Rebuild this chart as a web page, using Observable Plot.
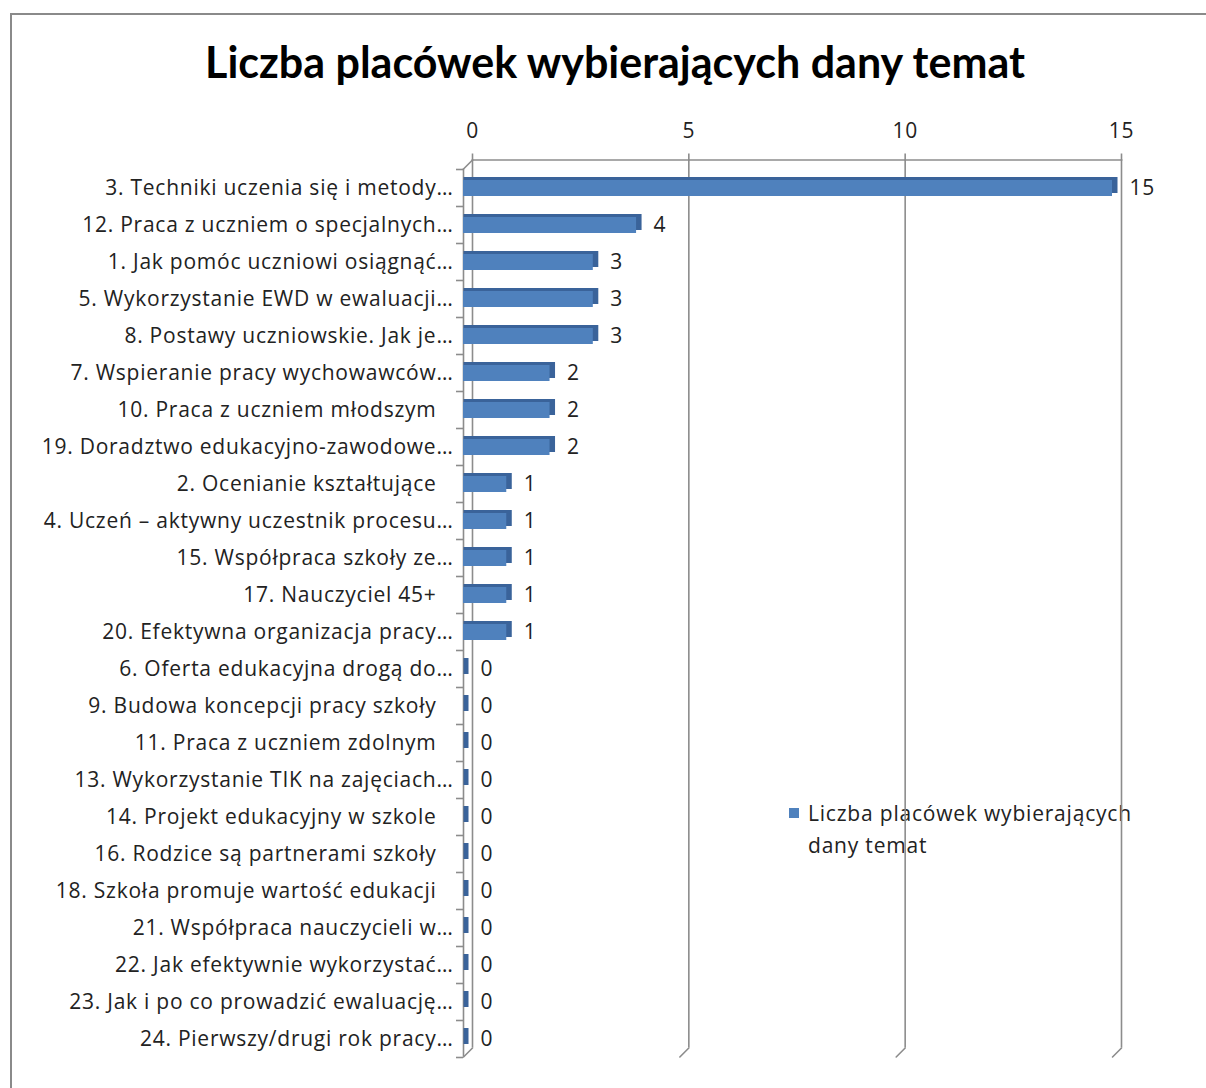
<!DOCTYPE html>
<html><head><meta charset="utf-8">
<script src="https://cdn.jsdelivr.net/npm/d3@7"></script>
<script src="https://cdn.jsdelivr.net/npm/@observablehq/plot@0.6"></script>
<style>
body{margin:0;background:#fff;font-family:"Open Sans",sans-serif;}
#wrap{position:relative;width:1206px;height:1088px;overflow:hidden;background:#fff;}
#border{position:absolute;left:10px;top:13px;width:1300px;height:1200px;border:2px solid #8a8a8a;}
#title{position:absolute;left:0;width:1230px;top:36px;text-align:center;font-family:Lato,sans-serif;font-size:43px;font-weight:bold;color:#000;line-height:52px;}
#legend{position:absolute;left:808px;top:797px;font-size:21px;line-height:32px;color:#222;letter-spacing:0.8px;}
#swatch{position:absolute;left:789px;top:808px;width:10px;height:10px;background:#4F81BD;}
#chart{position:absolute;left:0;top:0;}
#chart svg text{letter-spacing:0.75px;}
</style></head>
<body>
<div id="wrap">
  <div id="border"></div>
  <div id="title">Liczba placówek wybierających dany temat</div>
  <div id="swatch"></div>
  <div id="legend">Liczba placówek wybierających<br>dany temat</div>
  <div id="chart"></div>
</div>
<script>
const categories = [
  "3. Techniki uczenia się i metody…",
  "12. Praca z uczniem o specjalnych…",
  "1. Jak pomóc uczniowi osiągnąć…",
  "5. Wykorzystanie EWD w ewaluacji…",
  "8. Postawy uczniowskie. Jak je…",
  "7. Wspieranie pracy wychowawców…",
  "10. Praca z uczniem młodszym",
  "19. Doradztwo edukacyjno-zawodowe…",
  "2. Ocenianie kształtujące",
  "4. Uczeń – aktywny uczestnik procesu…",
  "15. Współpraca szkoły ze…",
  "17. Nauczyciel 45+",
  "20. Efektywna organizacja pracy…",
  "6. Oferta edukacyjna drogą do…",
  "9. Budowa koncepcji pracy szkoły",
  "11. Praca z uczniem zdolnym",
  "13. Wykorzystanie TIK na zajęciach…",
  "14. Projekt edukacyjny w szkole",
  "16. Rodzice są partnerami szkoły",
  "18. Szkoła promuje wartość edukacji",
  "21. Współpraca nauczycieli w…",
  "22. Jak efektywnie wykorzystać…",
  "23. Jak i po co prowadzić ewaluację…",
  "24. Pierwszy/drugi rok pracy…"
];
const values = [15, 4, 3, 3, 3, 2, 2, 2, 1, 1, 1, 1, 1, 0, 0, 0, 0, 0, 0, 0, 0, 0, 0, 0];
const xTicks = [0, 5, 10, 15];

const data = categories.map((c, i) => ({cat: c, value: values[i]}));
const truncated = categories.filter(c => c.endsWith("…"));
const full = categories.filter(c => !c.endsWith("…"));

const gray = "#8c8c8c";
const lineShape = {draw(context, l) { context.moveTo(0, 0); context.lineTo(0, -l); }};

const chart = Plot.plot({
  width: 1206, height: 1088,
  marginLeft: 472, marginRight: 85, marginTop: 168.5, marginBottom: 31.5,
  style: {background: "transparent", fontFamily: "'Open Sans', sans-serif", fontSize: "21px", color: "#222"},
  x: {domain: [0, 15], label: null},
  y: {domain: categories, padding: 0, label: null},
  marks: [
    Plot.gridX({ticks: xTicks, stroke: gray, strokeOpacity: 1, strokeWidth: 1.6, dy: -9}),
    Plot.frame({anchor: "top", stroke: gray, strokeWidth: 1.6, dy: -9}),
    Plot.vector(xTicks, {x: d => d, frameAnchor: "bottom", dy: -9, length: 12.7, rotate: 225, anchor: "start", shape: lineShape, stroke: gray, strokeWidth: 1.6}),
    Plot.vector([0], {x: d => d, frameAnchor: "top", dy: -9, length: 12.7, rotate: 225, anchor: "start", shape: lineShape, stroke: gray, strokeWidth: 1.6}),
    Plot.ruleX([0], {dx: -9, stroke: gray, strokeWidth: 1.6}),
    Plot.axisX({anchor: "top", ticks: xTicks, tickSize: 7, tickPadding: 15, dy: -9, stroke: gray, strokeWidth: 1.6, fill: "#222", fontSize: 21}),
    Plot.axisY({anchor: "left", tickSize: 7, dx: -9, dy: 18.5, tickFormat: () => "", stroke: gray, strokeWidth: 1.6}),
    Plot.axisY({anchor: "left", ticks: categories.slice(0, 1), tickSize: 7, dx: -9, dy: -18.5, tickFormat: () => "", stroke: gray, strokeWidth: 1.6}),
    Plot.axisY({anchor: "left", ticks: truncated, tickSize: 0, tickPadding: 10, dx: -9, fill: "#222", fontSize: 21}),
    Plot.axisY({anchor: "left", ticks: full, tickSize: 0, tickPadding: 27, dx: -9, fill: "#222", fontSize: 21}),
    Plot.barX(data, {x: "value", y: "cat", dx: -6, dy: -3, insetTop: 11, insetBottom: 10, insetLeft: -2.5, insetRight: -2.5, fill: "#3A639A"}),
    Plot.barX(data, {x: "value", y: "cat", dx: -9, insetTop: 11, insetBottom: 10, fill: "#4F81BD"}),
    Plot.text(data, {x: "value", y: "cat", text: d => String(d.value), dx: 8, textAnchor: "start", fontSize: 21, fill: "#222"})
  ]
});
document.getElementById("chart").append(chart);
</script>
</body></html>
